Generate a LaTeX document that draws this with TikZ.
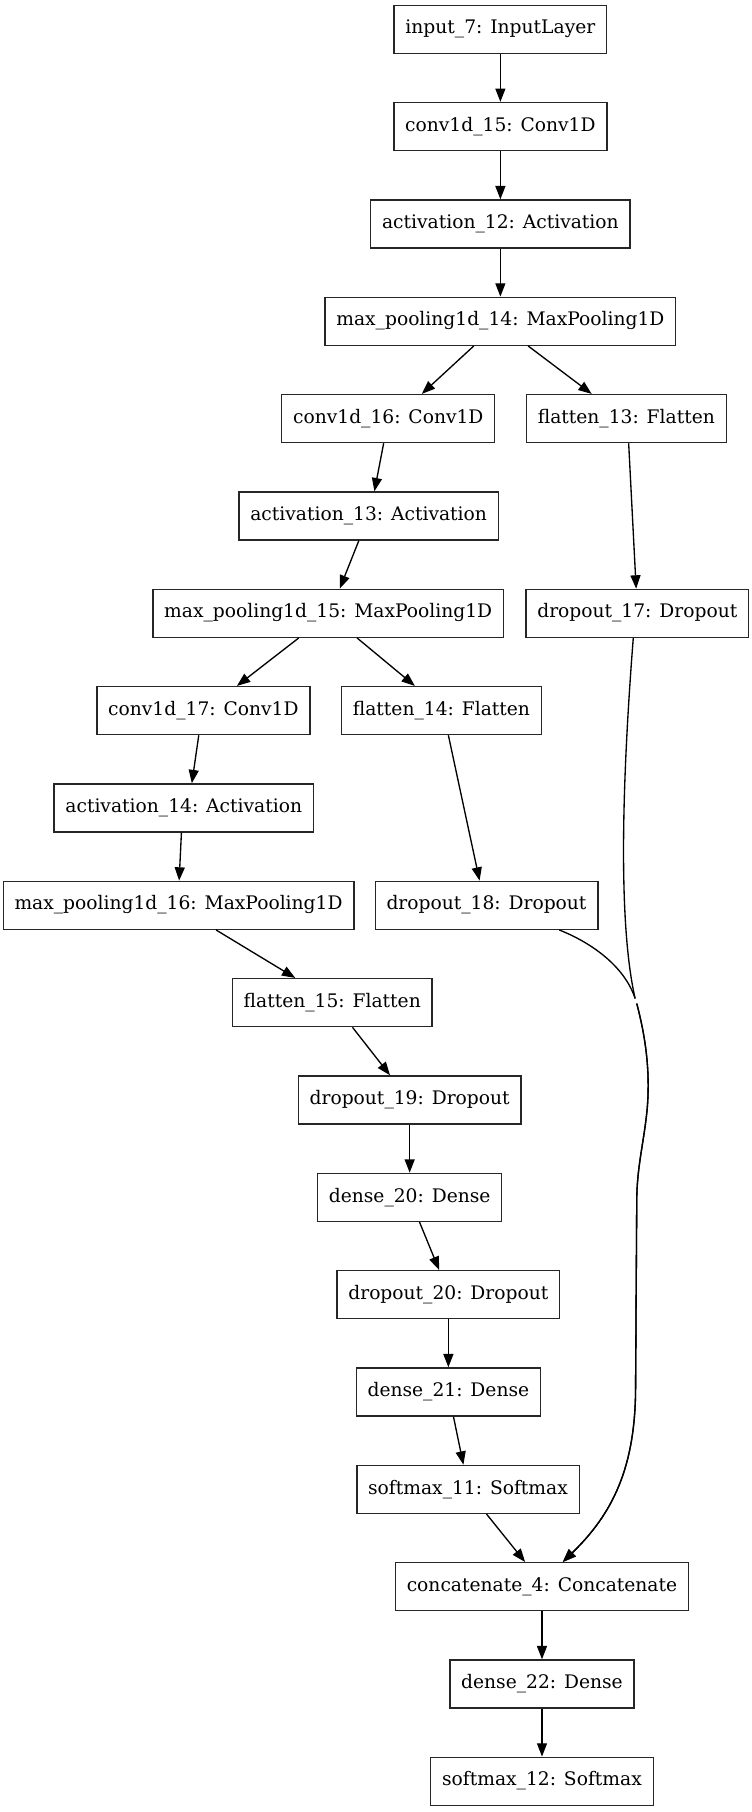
\documentclass[tikz,border=0pt]{standalone}
\usepackage{fontspec}
\setmainfont{DejaVu Serif}
\usetikzlibrary{arrows.meta,calc}
\begin{document}
\begin{tikzpicture}[x=0.8665pt,y=-0.8665pt,
  layer/.style={draw=black!85, line width=1pt, rectangle, minimum height=36pt,
    inner xsep=8.5pt, inner ysep=0pt, text height=10pt, text depth=3pt,
    font=\fontsize{14pt}{17pt}\selectfont, fill=white},
  edge/.style={line width=1pt, -{Triangle[length=10pt,width=7.5pt]}}
]
\useasboundingbox (0,0) rectangle (650,1568);

% layers
\node[layer] (in7)  at (433,25.3)    {input\_7: InputLayer};
\node[layer] (cv15) at (433,109.5)   {conv1d\_15: Conv1D};
\node[layer] (ac12) at (433,193.8)   {activation\_12: Activation};
\node[layer] (mp14) at (433,278.0)   {max\_pooling1d\_14: MaxPooling1D};
\node[layer] (cv16) at (336,362.2)   {conv1d\_16: Conv1D};
\node[layer] (fl13) at (542,362.2)   {flatten\_13: Flatten};
\node[layer] (ac13) at (319,446.5)   {activation\_13: Activation};
\node[layer] (mp15) at (284,530.7)   {max\_pooling1d\_15: MaxPooling1D};
\node[layer] (do17) at (551.5,530.7) {dropout\_17: Dropout};
\node[layer] (cv17) at (176,614.9)   {conv1d\_17: Conv1D};
\node[layer] (fl14) at (382,614.9)   {flatten\_14: Flatten};
\node[layer] (ac14) at (159,699.1)   {activation\_14: Activation};
\node[layer] (mp16) at (154.5,783.4) {max\_pooling1d\_16: MaxPooling1D};
\node[layer] (do18) at (421,783.4)   {dropout\_18: Dropout};
\node[layer] (fl15) at (287.5,867.6) {flatten\_15: Flatten};
\node[layer] (do19) at (354.5,951.8) {dropout\_19: Dropout};
\node[layer] (de20) at (354.5,1036.1){dense\_20: Dense};
\node[layer] (do20) at (388,1120.3)  {dropout\_20: Dropout};
\node[layer] (de21) at (388,1204.5)  {dense\_21: Dense};
\node[layer] (sm11) at (405,1288.8)  {softmax\_11: Softmax};
\node[layer] (cc4)  at (469,1373)    {concatenate\_4: Concatenate};
\node[layer] (de22) at (469,1457.2)  {dense\_22: Dense};
\node[layer] (sm12) at (469,1541.4)  {softmax\_12: Softmax};

% straight connectors
\draw[edge] (in7.south) -- (cv15.north);
\draw[edge] (cv15.south) -- (ac12.north);
\draw[edge] (ac12.south) -- (mp14.north);
\draw[edge] ($(mp14.south)+(-23,0)$) -- ($(cv16.north)+(29,0)$);
\draw[edge] ($(mp14.south)+(24,0)$) -- ($(fl13.north)+(-30,0)$);
\draw[edge] ($(cv16.south)+(-4,0)$) -- ($(ac13.north)+(5,0)$);
\draw[edge] ($(fl13.south)+(2,0)$) -- ($(do17.north)+(-1,0)$);
\draw[edge] ($(ac13.south)+(-8.5,0)$) -- ($(mp15.north)+(10,0)$);
\draw[edge] ($(mp15.south)+(-25.5,0)$) -- ($(cv17.north)+(29,0)$);
\draw[edge] ($(mp15.south)+(25,0)$) -- ($(fl14.north)+(-23,0)$);
\draw[edge] ($(cv17.south)+(-4,0)$) -- ($(ac14.north)+(7,0)$);
\draw[edge] ($(fl14.south)+(6,0)$) -- ($(do18.north)+(-6,0)$);
\draw[edge] ($(ac14.south)+(-2,0)$) -- ($(mp16.north)+(0.5,0)$);
\draw[edge] ($(mp16.south)+(32.5,0)$) -- ($(fl15.north)+(-32,0)$);
\draw[edge] ($(fl15.south)+(17.5,0)$) -- ($(do19.north)+(-17,0)$);
\draw[edge] (do19.south) -- (de20.north);
\draw[edge] ($(de20.south)+(8.5,0)$) -- ($(do20.north)+(-8,0)$);
\draw[edge] (do20.south) -- (de21.north);
\draw[edge] ($(de21.south)+(4.4,0)$) -- ($(sm11.north)+(-4,0)$);
\draw[edge] ($(sm11.south)+(16,0)$) -- ($(cc4.north)+(-14.6,0)$);
\draw[edge] (cc4.south) -- (de22.north);
\draw[edge] (de22.south) -- (sm12.north);

% long skip connectors into the concatenation
\draw[edge] ($(do17.south)+(-3.5,0)$) .. controls (538,680) and (535,800) .. (549.6,864)
  (551,868.4) .. controls (558,895) and (563,925) .. (560,960)
  .. controls (557,990) and (551,1010) .. (551,1040) -- (550,1200)
  .. controls (550,1270) and (530,1310) .. ($(cc4.north)+(18,0)$);
\draw[edge] ($(do18.south)+(63,0)$) .. controls (510,815) and (540,835) .. (549.6,864)
  (551,868.4) .. controls (558,895) and (563,925) .. (560,960)
  .. controls (557,990) and (551,1010) .. (551,1040) -- (550,1200)
  .. controls (550,1270) and (530,1310) .. ($(cc4.north)+(18,0)$);
\end{tikzpicture}
\end{document}
